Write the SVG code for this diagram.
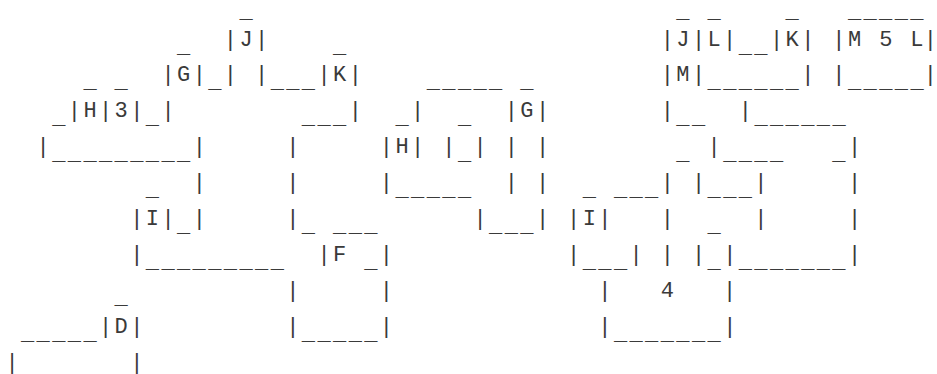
<svg xmlns="http://www.w3.org/2000/svg" width="937" height="374" viewBox="0 0 937 374">
<style>
text { font-family: "Liberation Mono", "Courier New", monospace; font-size: 22px; letter-spacing: 2.4px; fill: #3a3a3a; white-space: pre; }
text.e { letter-spacing: 0; text-anchor: end; }
tspan.z { letter-spacing: 0; }
</style>
<rect width="937" height="374" fill="#ffffff"/>
<g id="ascii-art" xml:space="preserve">
<text x="5.4" y="17.5">               _                           _ _    _   _____</text>
<text x="5.4" y="45.5">           <tspan dy="7">_</tspan><tspan dy="-7">  |J|    </tspan><tspan dy="7">_</tspan><tspan dy="-7">                    |J|L|</tspan><tspan dy="7">__</tspan><tspan dy="-7">|K| |M 5 </tspan><tspan class="z">L</tspan></text>
<text class="e" x="937" y="45.5">|</text>
<text x="5.4" y="81.4">     <tspan dy="7">_ _</tspan><tspan dy="-7">  |G|</tspan><tspan dy="7">_</tspan><tspan dy="-7">| |</tspan><tspan dy="7">___</tspan><tspan dy="-7">|K|    </tspan><tspan dy="7">_____ _</tspan><tspan dy="-7">        |M|</tspan><tspan dy="7">______</tspan><tspan dy="-7">| |</tspan><tspan dy="7">____<tspan class="z">_</tspan></tspan></text>
<text class="e" x="937" y="81.4">|</text>
<text x="5.4" y="117.3">   <tspan dy="7">_</tspan><tspan dy="-7">|H|3|</tspan><tspan dy="7">_</tspan><tspan dy="-7">|        </tspan><tspan dy="7">___</tspan><tspan dy="-7">|  </tspan><tspan dy="7">_</tspan><tspan dy="-7">|  </tspan><tspan dy="7">_</tspan><tspan dy="-7">  |G|       |</tspan><tspan dy="7">__</tspan><tspan dy="-7">  |</tspan><tspan dy="7">______</tspan></text>
<text x="5.4" y="153.2">  |<tspan dy="7">_________</tspan><tspan dy="-7">|     |     |H| |</tspan><tspan dy="7">_</tspan><tspan dy="-7">| | |        </tspan><tspan dy="7">_</tspan><tspan dy="-7"> |</tspan><tspan dy="7">____   _</tspan><tspan dy="-7">|</tspan></text>
<text x="5.4" y="189.1">         <tspan dy="7">_</tspan><tspan dy="-7">  |     |     |</tspan><tspan dy="7">_____</tspan><tspan dy="-7">  | |  </tspan><tspan dy="7">_ ___</tspan><tspan dy="-7">| |</tspan><tspan dy="7">___</tspan><tspan dy="-7">|     |</tspan></text>
<text x="5.4" y="225">        |I|<tspan dy="7">_</tspan><tspan dy="-7">|     |</tspan><tspan dy="7">_ ___</tspan><tspan dy="-7">      |</tspan><tspan dy="7">___</tspan><tspan dy="-7">| |I|   |  </tspan><tspan dy="7">_</tspan><tspan dy="-7">  |     |</tspan></text>
<text x="5.4" y="260.9">        |<tspan dy="7">_________</tspan><tspan dy="-7">  |F </tspan><tspan dy="7">_</tspan><tspan dy="-7">|           |</tspan><tspan dy="7">___</tspan><tspan dy="-7">| | |</tspan><tspan dy="7">_</tspan><tspan dy="-7">|</tspan><tspan dy="7">_______</tspan><tspan dy="-7">|</tspan></text>
<text x="5.4" y="296.8">       <tspan dy="7">_</tspan><tspan dy="-7">          |     |             |   4   |</tspan></text>
<text x="5.4" y="332.7"> <tspan dy="7">_____</tspan><tspan dy="-7">|D|         |</tspan><tspan dy="7">_____</tspan><tspan dy="-7">|             |</tspan><tspan dy="7">_______</tspan><tspan dy="-7">|</tspan></text>
<text x="5.4" y="368.6">|       |</text>
</g>
</svg>
